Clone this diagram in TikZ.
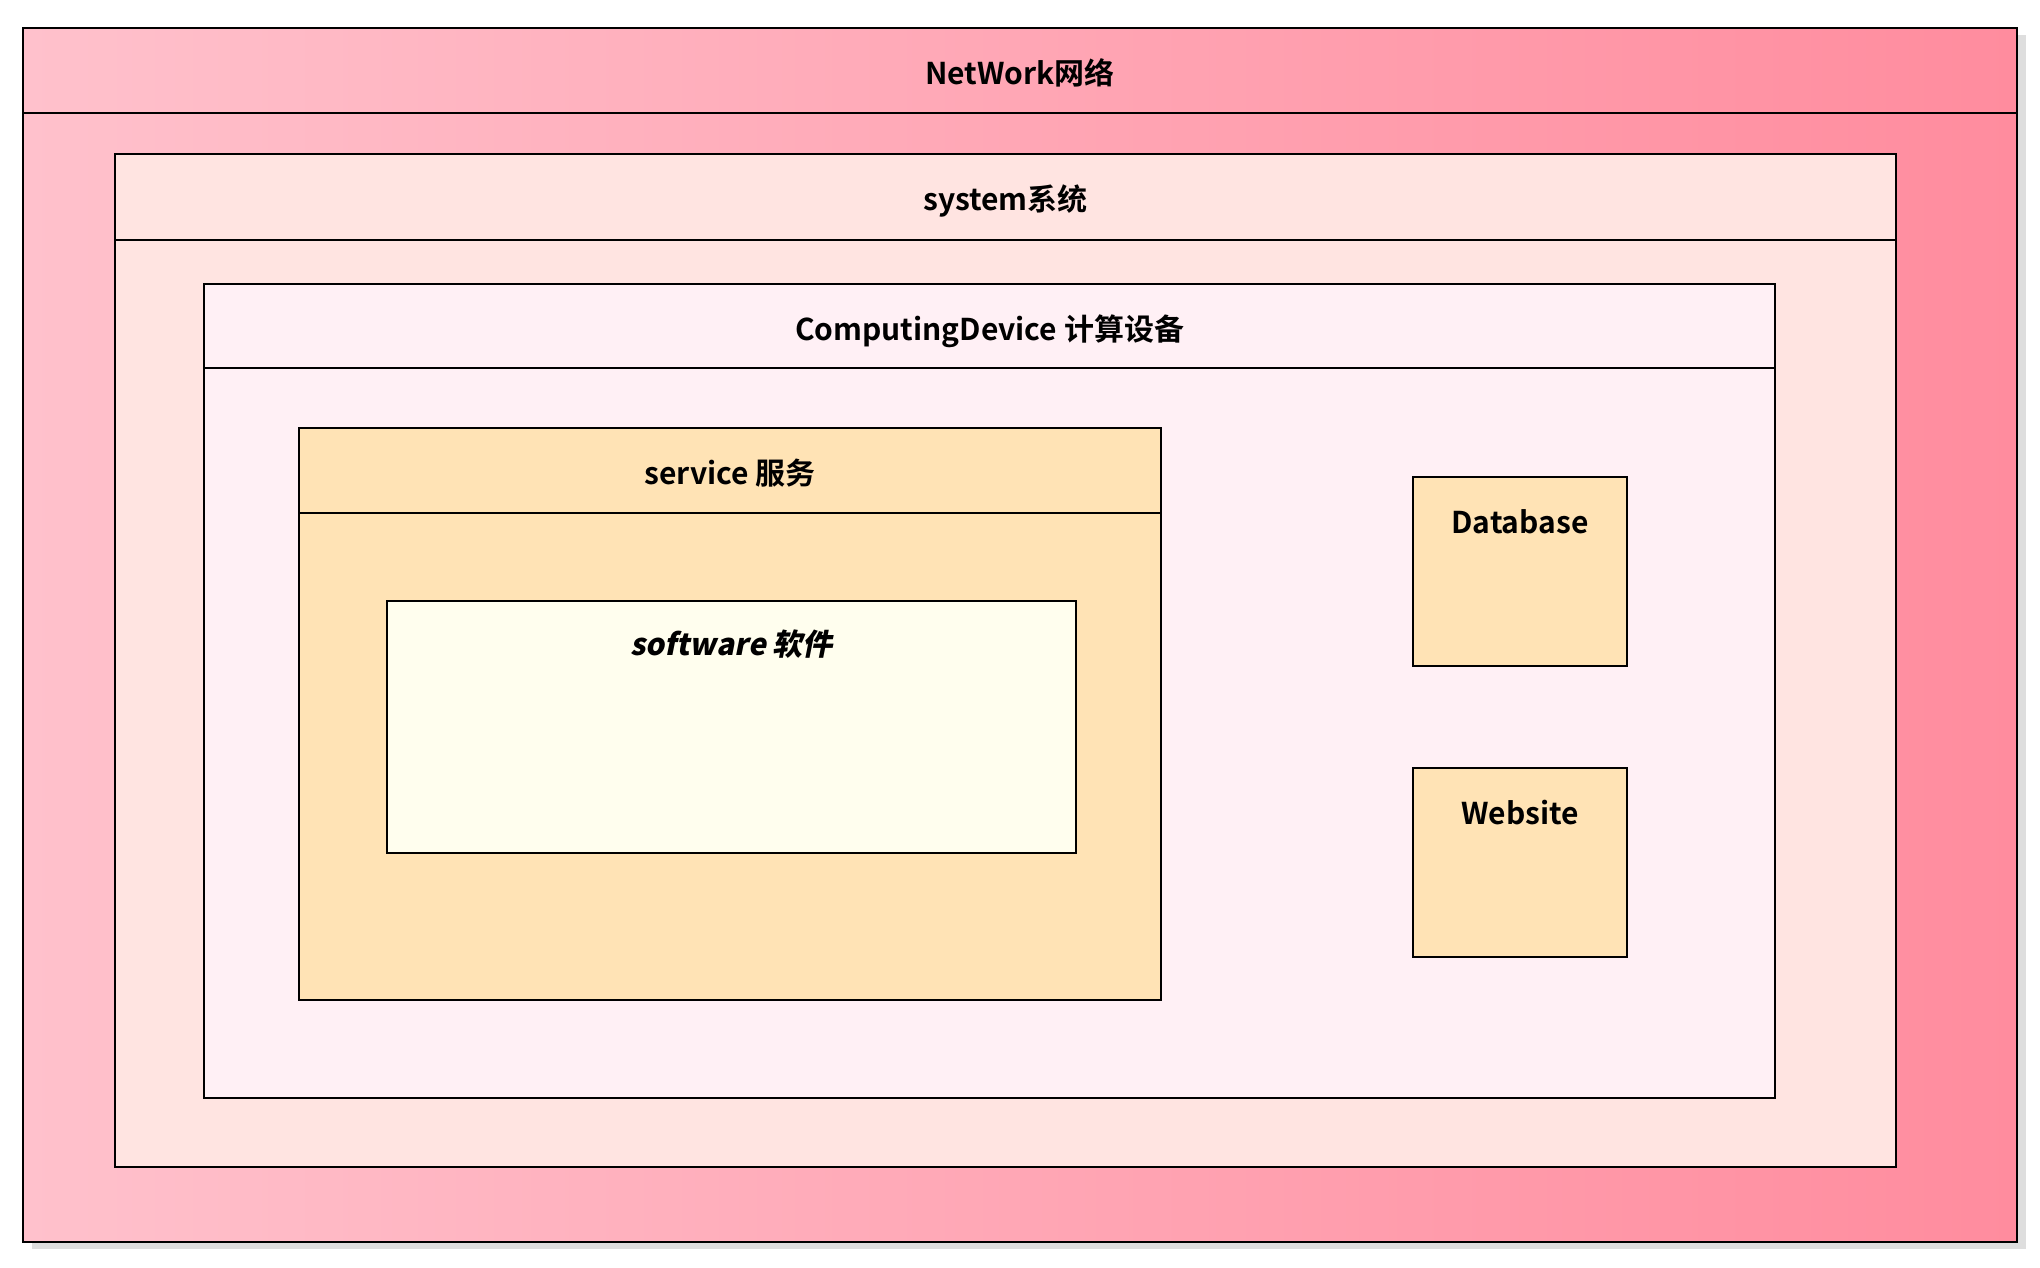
\documentclass[tikz,border=0pt]{standalone}
\usepackage{fontspec}
\setmainfont{Noto Sans CJK SC}[BoldFont={* Bold}]
\newfontfamily\slantbold{Noto Sans CJK SC}[UprightFont={* Bold}, FakeSlant=0.2]
\usetikzlibrary{positioning,shadows}

\definecolor{netleft}{RGB}{255,193,204}
\definecolor{netright}{RGB}{255,140,158}
\definecolor{sysfill}{RGB}{255,228,225}
\definecolor{devfill}{RGB}{255,240,245}
\definecolor{svcfill}{RGB}{255,227,181}
\definecolor{swfill}{RGB}{255,254,238}

\tikzset{
  frame/.style={draw=black, line width=1pt, rectangle, anchor=north west, inner sep=0pt},
  title/.style={font=\fontsize{15}{18}\selectfont\bfseries, inner sep=0pt, anchor=base},
}

\begin{document}
\begin{tikzpicture}[x=0.5pt,y=-0.5pt]
    \useasboundingbox (0,0) rectangle (2040,1268);
    % nested frames
    \node[frame, left color=netleft, right color=netright,
          general shadow={fill=black!13, shadow xshift=4.5pt, shadow yshift=-3.5pt},
          minimum width=997pt, minimum height=607pt] (net) at (22,27) {};
    \node[frame, fill=sysfill, minimum width=890.5pt, minimum height=506.5pt] (sys) at (114,153) {};
    \node[frame, fill=devfill, minimum width=785.5pt, minimum height=407pt] (dev) at (203,283) {};
    \node[frame, fill=svcfill, minimum width=431pt, minimum height=286pt] (svc) at (298,427) {};
    \node[frame, fill=swfill, minimum width=344.5pt, minimum height=126pt] (sw) at (386,600) {};
    \node[frame, fill=svcfill, minimum width=107pt, minimum height=94.5pt] (db) at (1412,476) {};
    \node[frame, fill=svcfill, minimum width=107pt, minimum height=94.5pt] (web) at (1412,767) {};

    % header lines
    \foreach \frm/\h in {net/43pt, sys/43.5pt, dev/42.5pt, svc/43pt}
        \draw[line width=1pt] ([yshift=-\h]\frm.north west) -- ([yshift=-\h]\frm.north east);

    % titles
    \node[title] (netlabel) at ([yshift=-29pt]net.north) {NetWork网络};
    \node[title] (syslabel) at ([yshift=-28.5pt]sys.north) {system系统};
    \node[title] (devlabel) at ([yshift=-28.5pt]dev.north) {ComputingDevice 计算设备};
    \node[title] (svclabel) at ([yshift=-28.5pt]svc.north) {service 服务};
    \node[title] (swlabel)  at ([yshift=-27.5pt]sw.north) {\slantbold software 软件};
    \node[title] (dblabel)  at ([yshift=-28.5pt]db.north) {Database};
    \node[title] (weblabel) at ([yshift=-28.5pt]web.north) {Website};
\end{tikzpicture}
\end{document}
